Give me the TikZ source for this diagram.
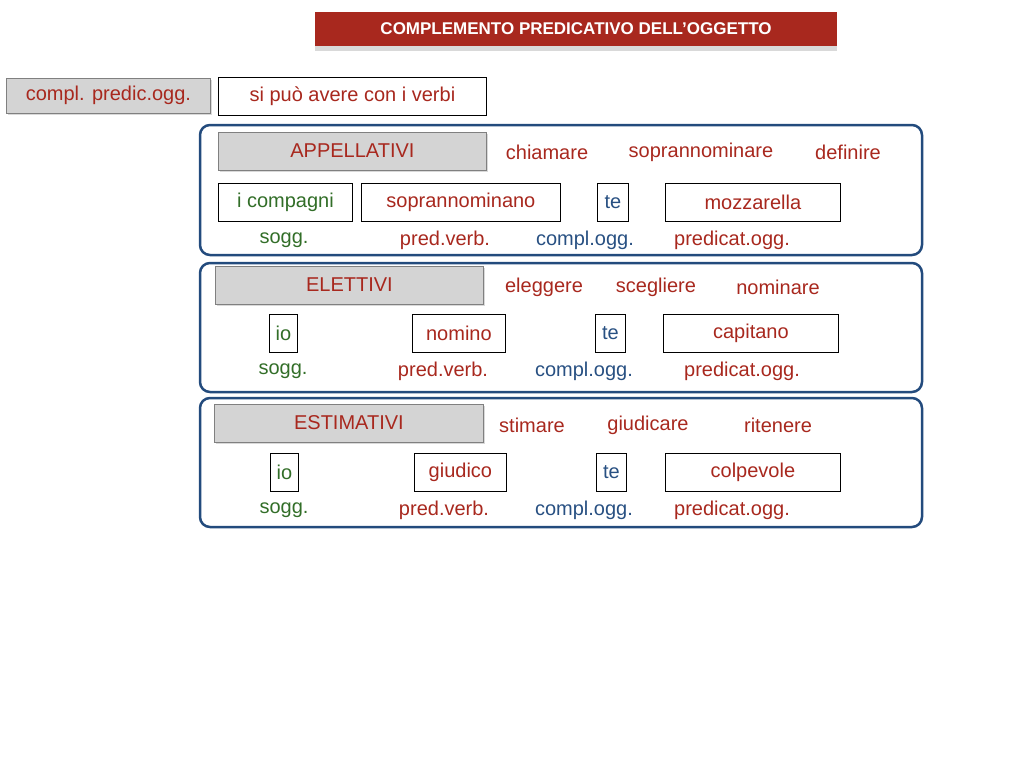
\documentclass[tikz,border=0pt]{standalone}
\usepackage{fontspec}
\setmainfont{Liberation Sans}
\usetikzlibrary{shadows}
\definecolor{tred}{RGB}{168,40,30}
\definecolor{tgreen}{RGB}{50,110,40}
\definecolor{tblue}{RGB}{40,80,130}
\definecolor{navy}{RGB}{35,75,125}
\tikzset{
 txt/.style={font=\fontsize{20}{22}\selectfont, inner sep=0pt},
 wbox/.style={draw=black, line width=0.8pt, fill=white, minimum height=38, inner sep=2pt, anchor=west, font=\fontsize{20}{22}\selectfont},
 gbox/.style={draw=gray, line width=0.8pt, fill=black!17, minimum height=38, anchor=west, font=\fontsize{20}{22}\selectfont, text=tred, drop shadow={opacity=0.3,shadow xshift=2pt,shadow yshift=-2pt}},
 grp/.style={draw=navy, line width=2.5pt, rounded corners=10pt}
}
\begin{document}
\begin{tikzpicture}[x=1pt,y=-1pt]
\useasboundingbox (0,0) rectangle (1024,768);
\node[fill=tred, text=white, font=\bfseries\fontsize{17}{19}\selectfont, minimum width=522, minimum height=34, drop shadow={opacity=0.3,shadow xshift=0pt,shadow yshift=-5pt}] (title) at (576,29) {COMPLEMENTO PREDICATIVO DELL’OGGETTO};
\node[gbox, minimum width=204, minimum height=35] (cp) at (6,95.5) {compl. predic.ogg.};
\node[wbox, minimum width=268, text=tred] (si) at (218,96) {si può avere con i verbi};
% group 1
\draw[grp] (200,125) rectangle (922,255);
\node[gbox, minimum width=268] (g1) at (218,151) {APPELLATIVI};
\node[txt, text=tred] (v11) at (547,152) {chiamare};
\node[txt, text=tred] (v12) at (701,152) {soprannominare};
\node[txt, text=tred] (v13) at (848,152) {definire};
\node[wbox, minimum width=134, text=tgreen] (a1) at (218,202) {i compagni};
\node[wbox, minimum width=199, text=tred] (a2) at (361,202) {soprannominano};
\node[wbox, minimum width=31, text=tblue] (a3) at (597,202) {te};
\node[wbox, minimum width=175, text=tred] (a4) at (665,202) {mozzarella};
\node[txt, text=tgreen] (l11) at (284,240) {sogg.};
\node[txt, text=tred] (l12) at (445,240) {pred.verb.};
\node[txt, text=tblue] (l13) at (585,240) {compl.ogg.};
\node[txt, text=tred] (l14) at (732,240) {predicat.ogg.};
% group 2
\draw[grp] (200,263) rectangle (922,392);
\node[gbox, minimum width=268] (g2) at (215,285) {ELETTIVI};
\node[txt, text=tred] (v21) at (544,287) {eleggere};
\node[txt, text=tred] (v22) at (656,287) {scegliere};
\node[txt, text=tred] (v23) at (778,287) {nominare};
\node[wbox, minimum width=28, text=tgreen] (b1) at (269,333.5) {io};
\node[wbox, minimum width=93, text=tred] (b2) at (412,333.5) {nomino};
\node[wbox, minimum width=30, text=tblue] (b3) at (595,333.5) {te};
\node[wbox, minimum width=175, text=tred] (b4) at (663,333.5) {capitano};
\node[txt, text=tgreen] (l21) at (283,371) {sogg.};
\node[txt, text=tred] (l22) at (443,371) {pred.verb.};
\node[txt, text=tblue] (l23) at (584,371) {compl.ogg.};
\node[txt, text=tred] (l24) at (742,371) {predicat.ogg.};
% group 3
\draw[grp] (200,398) rectangle (922,527);
\node[gbox, minimum width=269] (g3) at (214,423) {ESTIMATIVI};
\node[txt, text=tred] (v31) at (532,425) {stimare};
\node[txt, text=tred] (v32) at (648,425) {giudicare};
\node[txt, text=tred] (v33) at (778,425) {ritenere};
\node[wbox, minimum width=28, text=tgreen] (c1) at (270,472) {io};
\node[wbox, minimum width=92, text=tred] (c2) at (414,472) {giudico};
\node[wbox, minimum width=30, text=tblue] (c3) at (596,472) {te};
\node[wbox, minimum width=175, text=tred] (c4) at (665,472) {colpevole};
\node[txt, text=tgreen] (l31) at (284,510) {sogg.};
\node[txt, text=tred] (l32) at (444,510) {pred.verb.};
\node[txt, text=tblue] (l33) at (584,510) {compl.ogg.};
\node[txt, text=tred] (l34) at (732,510) {predicat.ogg.};
\end{tikzpicture}
\end{document}
